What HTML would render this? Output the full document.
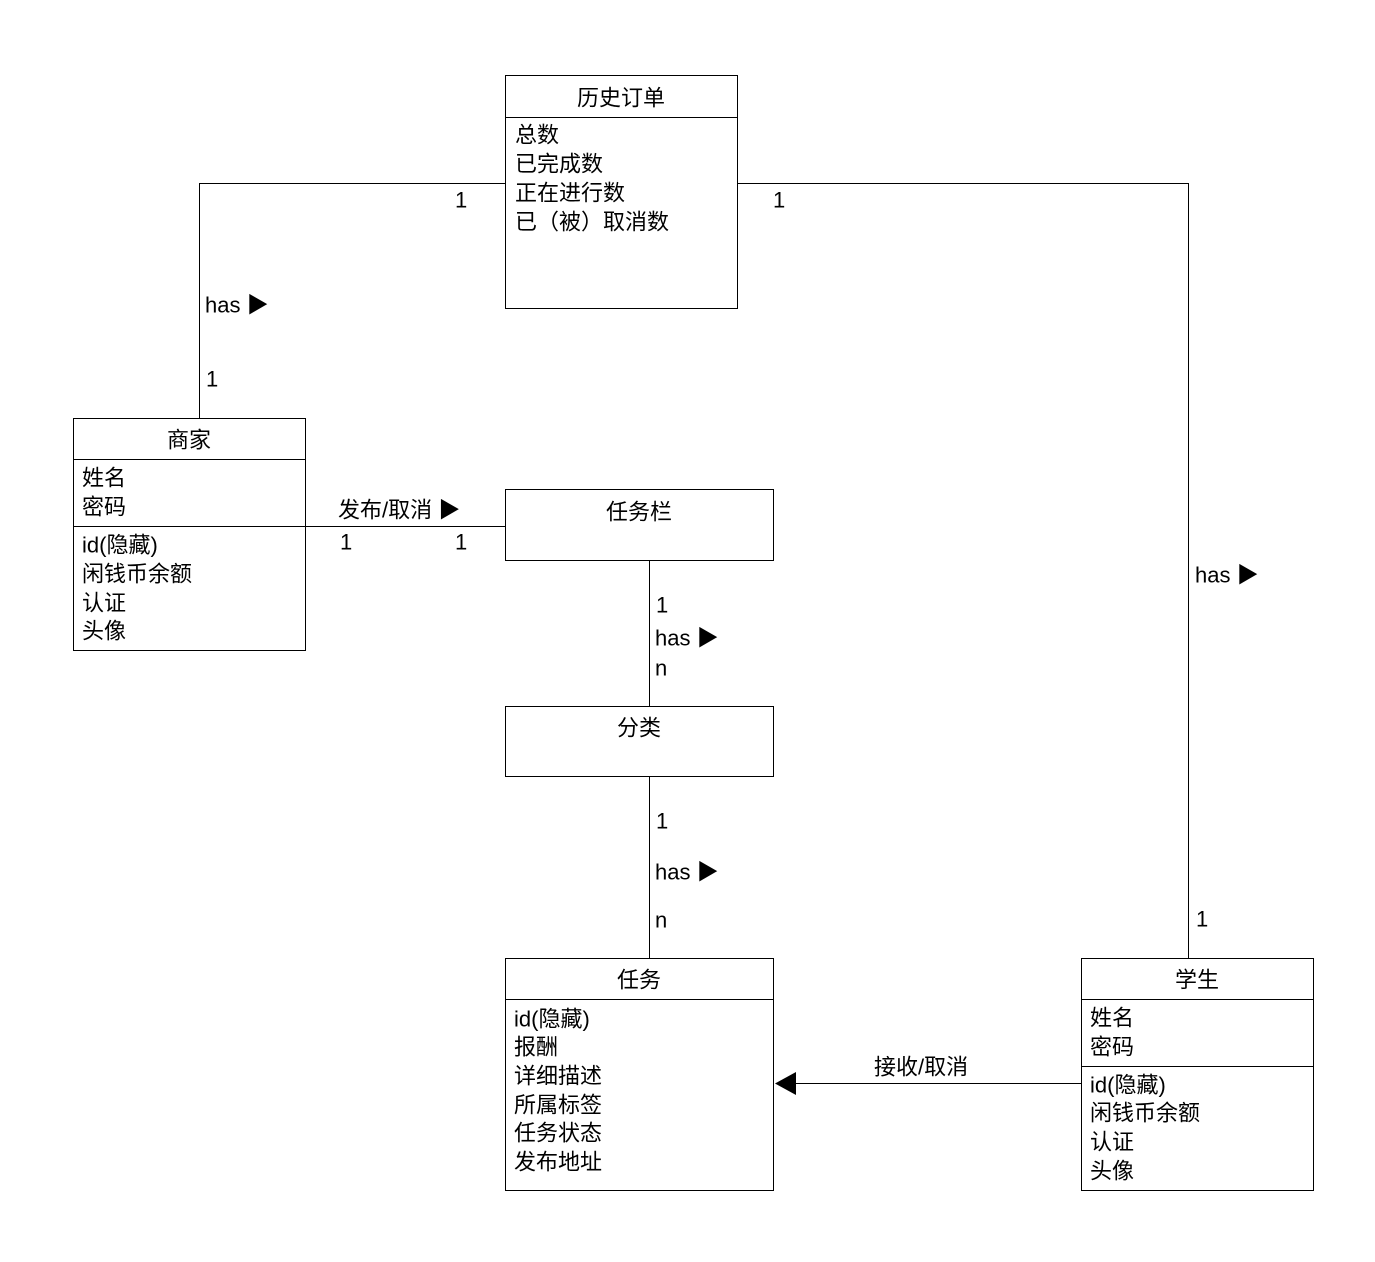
<!DOCTYPE html>
<html><head><meta charset="utf-8"><style>
html,body{margin:0;padding:0;background:#fff;}
svg text{font-family:"Liberation Sans","Noto Sans CJK SC",sans-serif;font-size:22px;fill:#000;dominant-baseline:central;}
</style></head><body>
<svg width="1375" height="1257" xmlns="http://www.w3.org/2000/svg">
<g fill="none" stroke="#000" stroke-width="1">
<!-- 历史订单 -->
<rect x="505.5" y="75.5" width="232" height="233"/>
<line x1="505" y1="117.5" x2="737" y2="117.5"/>
<!-- 商家 -->
<rect x="73.5" y="418.5" width="232" height="232"/>
<line x1="73" y1="459.5" x2="305" y2="459.5"/>
<line x1="73" y1="526.5" x2="305" y2="526.5"/>
<!-- 任务栏 -->
<rect x="505.5" y="489.5" width="268" height="71"/>
<!-- 分类 -->
<rect x="505.5" y="706.5" width="268" height="70"/>
<!-- 任务 -->
<rect x="505.5" y="958.5" width="268" height="232"/>
<line x1="505" y1="999.5" x2="773" y2="999.5"/>
<!-- 学生 -->
<rect x="1081.5" y="958.5" width="232" height="232"/>
<line x1="1081" y1="999.5" x2="1313" y2="999.5"/>
<line x1="1081" y1="1066.5" x2="1313" y2="1066.5"/>
<!-- connectors -->
<polyline points="505,183.5 199.5,183.5 199.5,418"/>
<polyline points="737,183.5 1188.5,183.5 1188.5,958"/>
<line x1="305" y1="526.5" x2="505" y2="526.5"/>
<line x1="649.5" y1="560" x2="649.5" y2="706"/>
<line x1="649.5" y1="776" x2="649.5" y2="958"/>
<line x1="1081" y1="1083.5" x2="795" y2="1083.5"/>
</g>
<polygon points="775,1083.5 796,1072 796,1095" fill="#000"/>

<text x="621" y="98" text-anchor="middle">历史订单</text>
<text x="515" y="135">总数</text>
<text x="515" y="164">已完成数</text>
<text x="515" y="193">正在进行数</text>
<text x="515" y="222">已（被）取消数</text>

<text x="189" y="440" text-anchor="middle">商家</text>
<text x="82" y="478">姓名</text>
<text x="82" y="507">密码</text>
<text x="82" y="545">id(隐藏)</text>
<text x="82" y="574">闲钱币余额</text>
<text x="82" y="603">认证</text>
<text x="82" y="631">头像</text>

<text x="639" y="512" text-anchor="middle">任务栏</text>
<text x="639" y="728" text-anchor="middle">分类</text>

<text x="639" y="980" text-anchor="middle">任务</text>
<text x="514" y="1019">id(隐藏)</text>
<text x="514" y="1047">报酬</text>
<text x="514" y="1076">详细描述</text>
<text x="514" y="1105">所属标签</text>
<text x="514" y="1133">任务状态</text>
<text x="514" y="1162">发布地址</text>

<text x="1197" y="980" text-anchor="middle">学生</text>
<text x="1090" y="1018">姓名</text>
<text x="1090" y="1047">密码</text>
<text x="1090" y="1085">id(隐藏)</text>
<text x="1090" y="1113">闲钱币余额</text>
<text x="1090" y="1142">认证</text>
<text x="1090" y="1171">头像</text>

<text x="455" y="200">1</text>
<text x="773" y="200">1</text>
<text x="205" y="305">has ▶</text>
<text x="206" y="379">1</text>
<text x="338" y="510">发布/取消 ▶</text>
<text x="340" y="542">1</text>
<text x="455" y="542">1</text>
<text x="656" y="605">1</text>
<text x="655" y="638">has ▶</text>
<text x="655" y="668">n</text>
<text x="656" y="821">1</text>
<text x="655" y="872">has ▶</text>
<text x="655" y="920">n</text>
<text x="1195" y="575">has ▶</text>
<text x="1196" y="919">1</text>
<text x="874" y="1067">接收/取消</text>
</svg>
</body></html>
